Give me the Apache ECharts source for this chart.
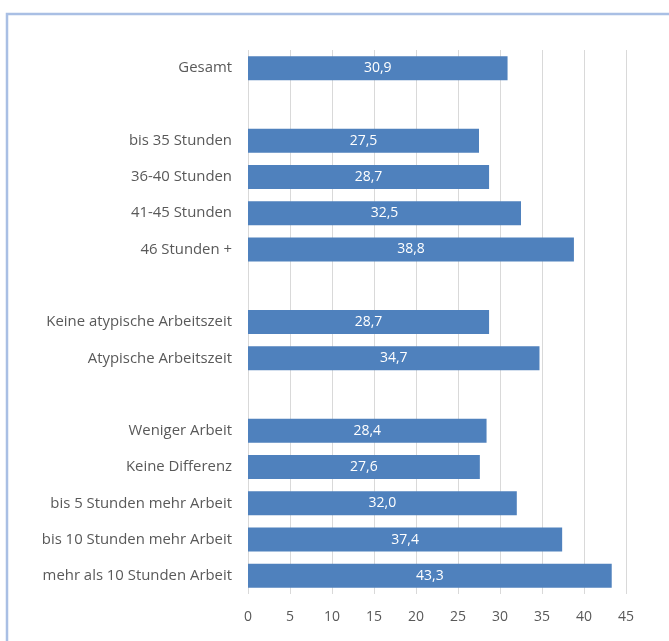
<!DOCTYPE html>
<html>
<head>
<meta charset="utf-8">
<script src="https://cdn.jsdelivr.net/npm/echarts@6/dist/echarts.min.js"></script>
<style>html,body{margin:0;padding:0;background:#fff;}#c{width:669px;height:641px;}</style>
</head>
<body>
<div id="c"></div>
<script>
var categories = ['Gesamt', '', 'bis 35 Stunden', '36-40 Stunden', '41-45 Stunden', '46 Stunden +', '', 'Keine atypische Arbeitszeit', 'Atypische Arbeitszeit', '', 'Weniger Arbeit', 'Keine Differenz', 'bis 5 Stunden mehr Arbeit', 'bis 10 Stunden mehr Arbeit', 'mehr als 10 Stunden Arbeit'];
var values = [30.9, null, 27.5, 28.7, 32.5, 38.8, null, 28.7, 34.7, null, 28.4, 27.6, 32.0, 37.4, 43.3];
var xTicks = [0, 5, 10, 15, 20, 25, 30, 35, 40, 45];

var chart = echarts.init(document.getElementById('c'), null, {renderer: 'canvas'});
var font = 'Open Sans';
chart.setOption({
  animation: false,
  backgroundColor: '#ffffff',
  graphic: [{
    type: 'rect', silent: true, z: 100,
    shape: {x: 7, y: 14, width: 720, height: 700},
    style: {fill: 'none', stroke: '#a9bfe4', lineWidth: 2.5}
  }],
  grid: {left: 248, right: 43, top: 50, bottom: 47, containLabel: false},
  xAxis: {
    type: 'value', min: xTicks[0], max: xTicks[xTicks.length - 1], interval: 5,
    axisLine: {show: false}, axisTick: {show: false},
    splitLine: {show: true, lineStyle: {color: '#d9d9d9', width: 1}},
    axisLabel: {color: '#595959', fontFamily: font, fontSize: 14, margin: 16}
  },
  yAxis: {
    type: 'category', data: categories, inverse: true,
    axisLine: {show: false}, axisTick: {show: false},
    axisLabel: {color: '#595959', fontFamily: font, fontSize: 14.9, margin: 16}
  },
  series: [{
    type: 'bar', data: values, barWidth: 24,
    itemStyle: {color: '#4f81bd'},
    label: {
      show: true, position: 'inside', color: '#ffffff', fontFamily: font, fontSize: 14,
      formatter: function (p) { return p.value == null ? '' : p.value.toFixed(1).replace('.', ','); }
    }
  }]
});
</script>
</body>
</html>
